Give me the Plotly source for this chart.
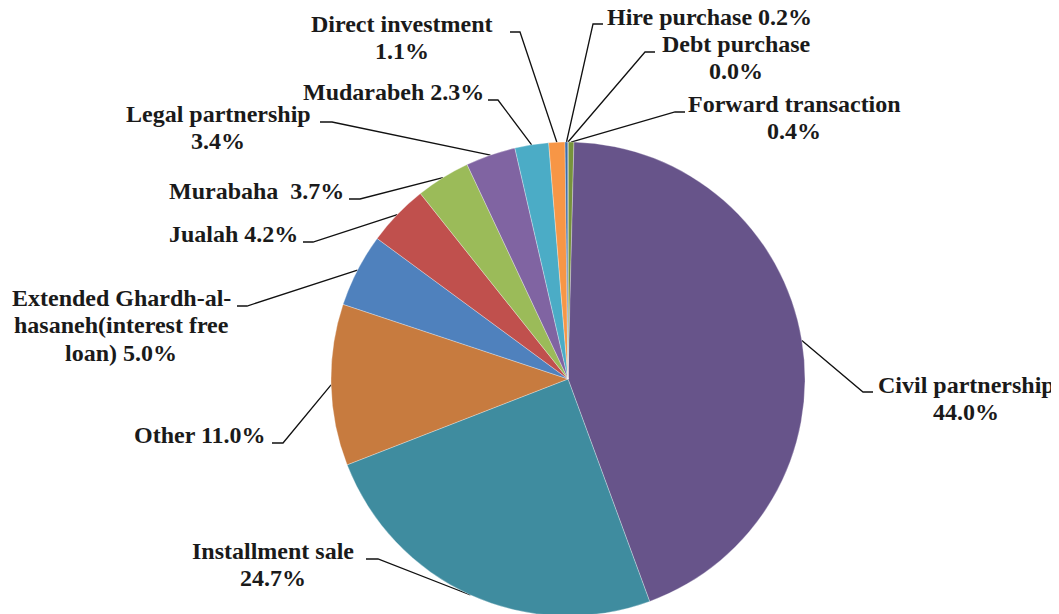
import numpy as np
import plotly.graph_objects as go

# ---------------- data ----------------
categories = [
    "Forward transaction", "Civil partnership", "Installment sale", "Other",
    "Extended Ghardh-al-hasaneh(interest free loan)", "Jualah", "Murabaha",
    "Legal partnership", "Mudarabeh", "Direct investment", "Hire purchase",
    "Debt purchase",
]
shares = [0.4, 44.0, 24.7, 11.0, 5.0, 4.2, 3.7, 3.4, 2.3, 1.1, 0.2, 0.0]

# label text lines; "{p}" is replaced by the percentage
label_lines = [
    ["Forward transaction", "{p}"],
    ["Civil partnership", "{p}"],
    ["Installment sale", "{p}"],
    ["Other {p}"],
    ["Extended Ghardh-al-", "hasaneh(interest free", "loan) {p}"],
    ["Jualah {p}"],
    ["Murabaha\u00a0 {p}"],
    ["Legal partnership", "{p}"],
    ["Mudarabeh {p}"],
    ["Direct investment", "{p}"],
    ["Hire purchase {p}"],
    ["Debt purchase", "{p}"],
]

colors = [
    "#77933C", "#67548A", "#3F8C9F", "#C77B3F", "#4F81BD", "#C0504D",
    "#9BBB59", "#8064A2", "#4BACC6", "#F79646", "#3A6AA8", "#2C4D75",
]

# ---------------- layout (page pixels) ----------------
W, H = 1059, 614
OFF = 8                      # default body margin of the html page
CX, CY, R = 568, 379, 237
FS = 24
LINE_GAP = 27.5

# label centre x and first-line baseline y
label_pos = [
    (794, 112), (966, 393), (273, 559), (200, 443), (121, 306), (233, 242),
    (256, 199), (218, 122), (393, 100), (402, 32), (709, 25), (736, 52),
]
# leader: elbow point and end point of the horizontal stub
elbow_pos = [
    ((675, 112), (685, 112)), ((863, 392), (873, 392)), ((378, 559), (366, 559)),
    ((283, 443), (272, 443)), ((247, 306), (237, 306)), ((313, 242), (303, 242)),
    ((360, 199), (349, 199)), ((332, 122), (320, 122)), ((498, 100), (488, 100)),
    ((520, 32), (510, 32)), ((593, 24), (603, 24)), ((645, 52), (655, 52)),
]

fig = go.Figure()

cyb = H - (CY - OFF)   # centre measured from figure bottom
fig.add_trace(go.Pie(
    labels=categories,
    values=shares,
    sort=False,
    direction="clockwise",
    rotation=0,
    textinfo="none",
    hoverinfo="label+percent",
    marker=dict(colors=colors, line=dict(color="rgba(255,255,255,0.6)", width=0.5)),
    domain=dict(x=[(CX - OFF - R) / W, (CX - OFF + R) / W],
                y=[(cyb - R) / H, (cyb + R) / H]),
    showlegend=False,
))

total = sum(shares)
cum = np.cumsum([0] + shares)
font = dict(family="Liberation Serif", size=FS, color="#1a1a1a", weight="bold")
annotations = []
for i, v in enumerate(shares):
    mid = (cum[i] + v / 2) / total * 2 * np.pi
    ax = CX + R * np.sin(mid)
    ay = CY - R * np.cos(mid)
    (ex, ey), (sx, sy) = elbow_pos[i]
    fig.add_trace(go.Scatter(
        x=[ax, ex, sx], y=[ay, ey, sy], mode="lines",
        line=dict(color="#111111", width=1.3),
        hoverinfo="skip", showlegend=False, xaxis="x", yaxis="y",
    ))
    lx, ly = label_pos[i]
    pct = f"{v:.1f}%"
    for k, line in enumerate(label_lines[i]):
        annotations.append(dict(
            x=lx, y=ly + k * LINE_GAP - 0.34 * FS, xref="x", yref="y",
            xanchor="center", yanchor="middle",
            text=line.replace("{p}", pct),
            showarrow=False, font=font, align="center",
        ))

fig.update_layout(
    width=W, height=H,
    margin=dict(l=0, r=0, t=0, b=0),
    paper_bgcolor="white", plot_bgcolor="rgba(0,0,0,0)",
    xaxis=dict(range=[OFF, W + OFF], visible=False, domain=[0, 1], fixedrange=True),
    yaxis=dict(range=[H + OFF, OFF], visible=False, domain=[0, 1], fixedrange=True),
    annotations=annotations,
    showlegend=False,
)

fig.write_html("out.html")
